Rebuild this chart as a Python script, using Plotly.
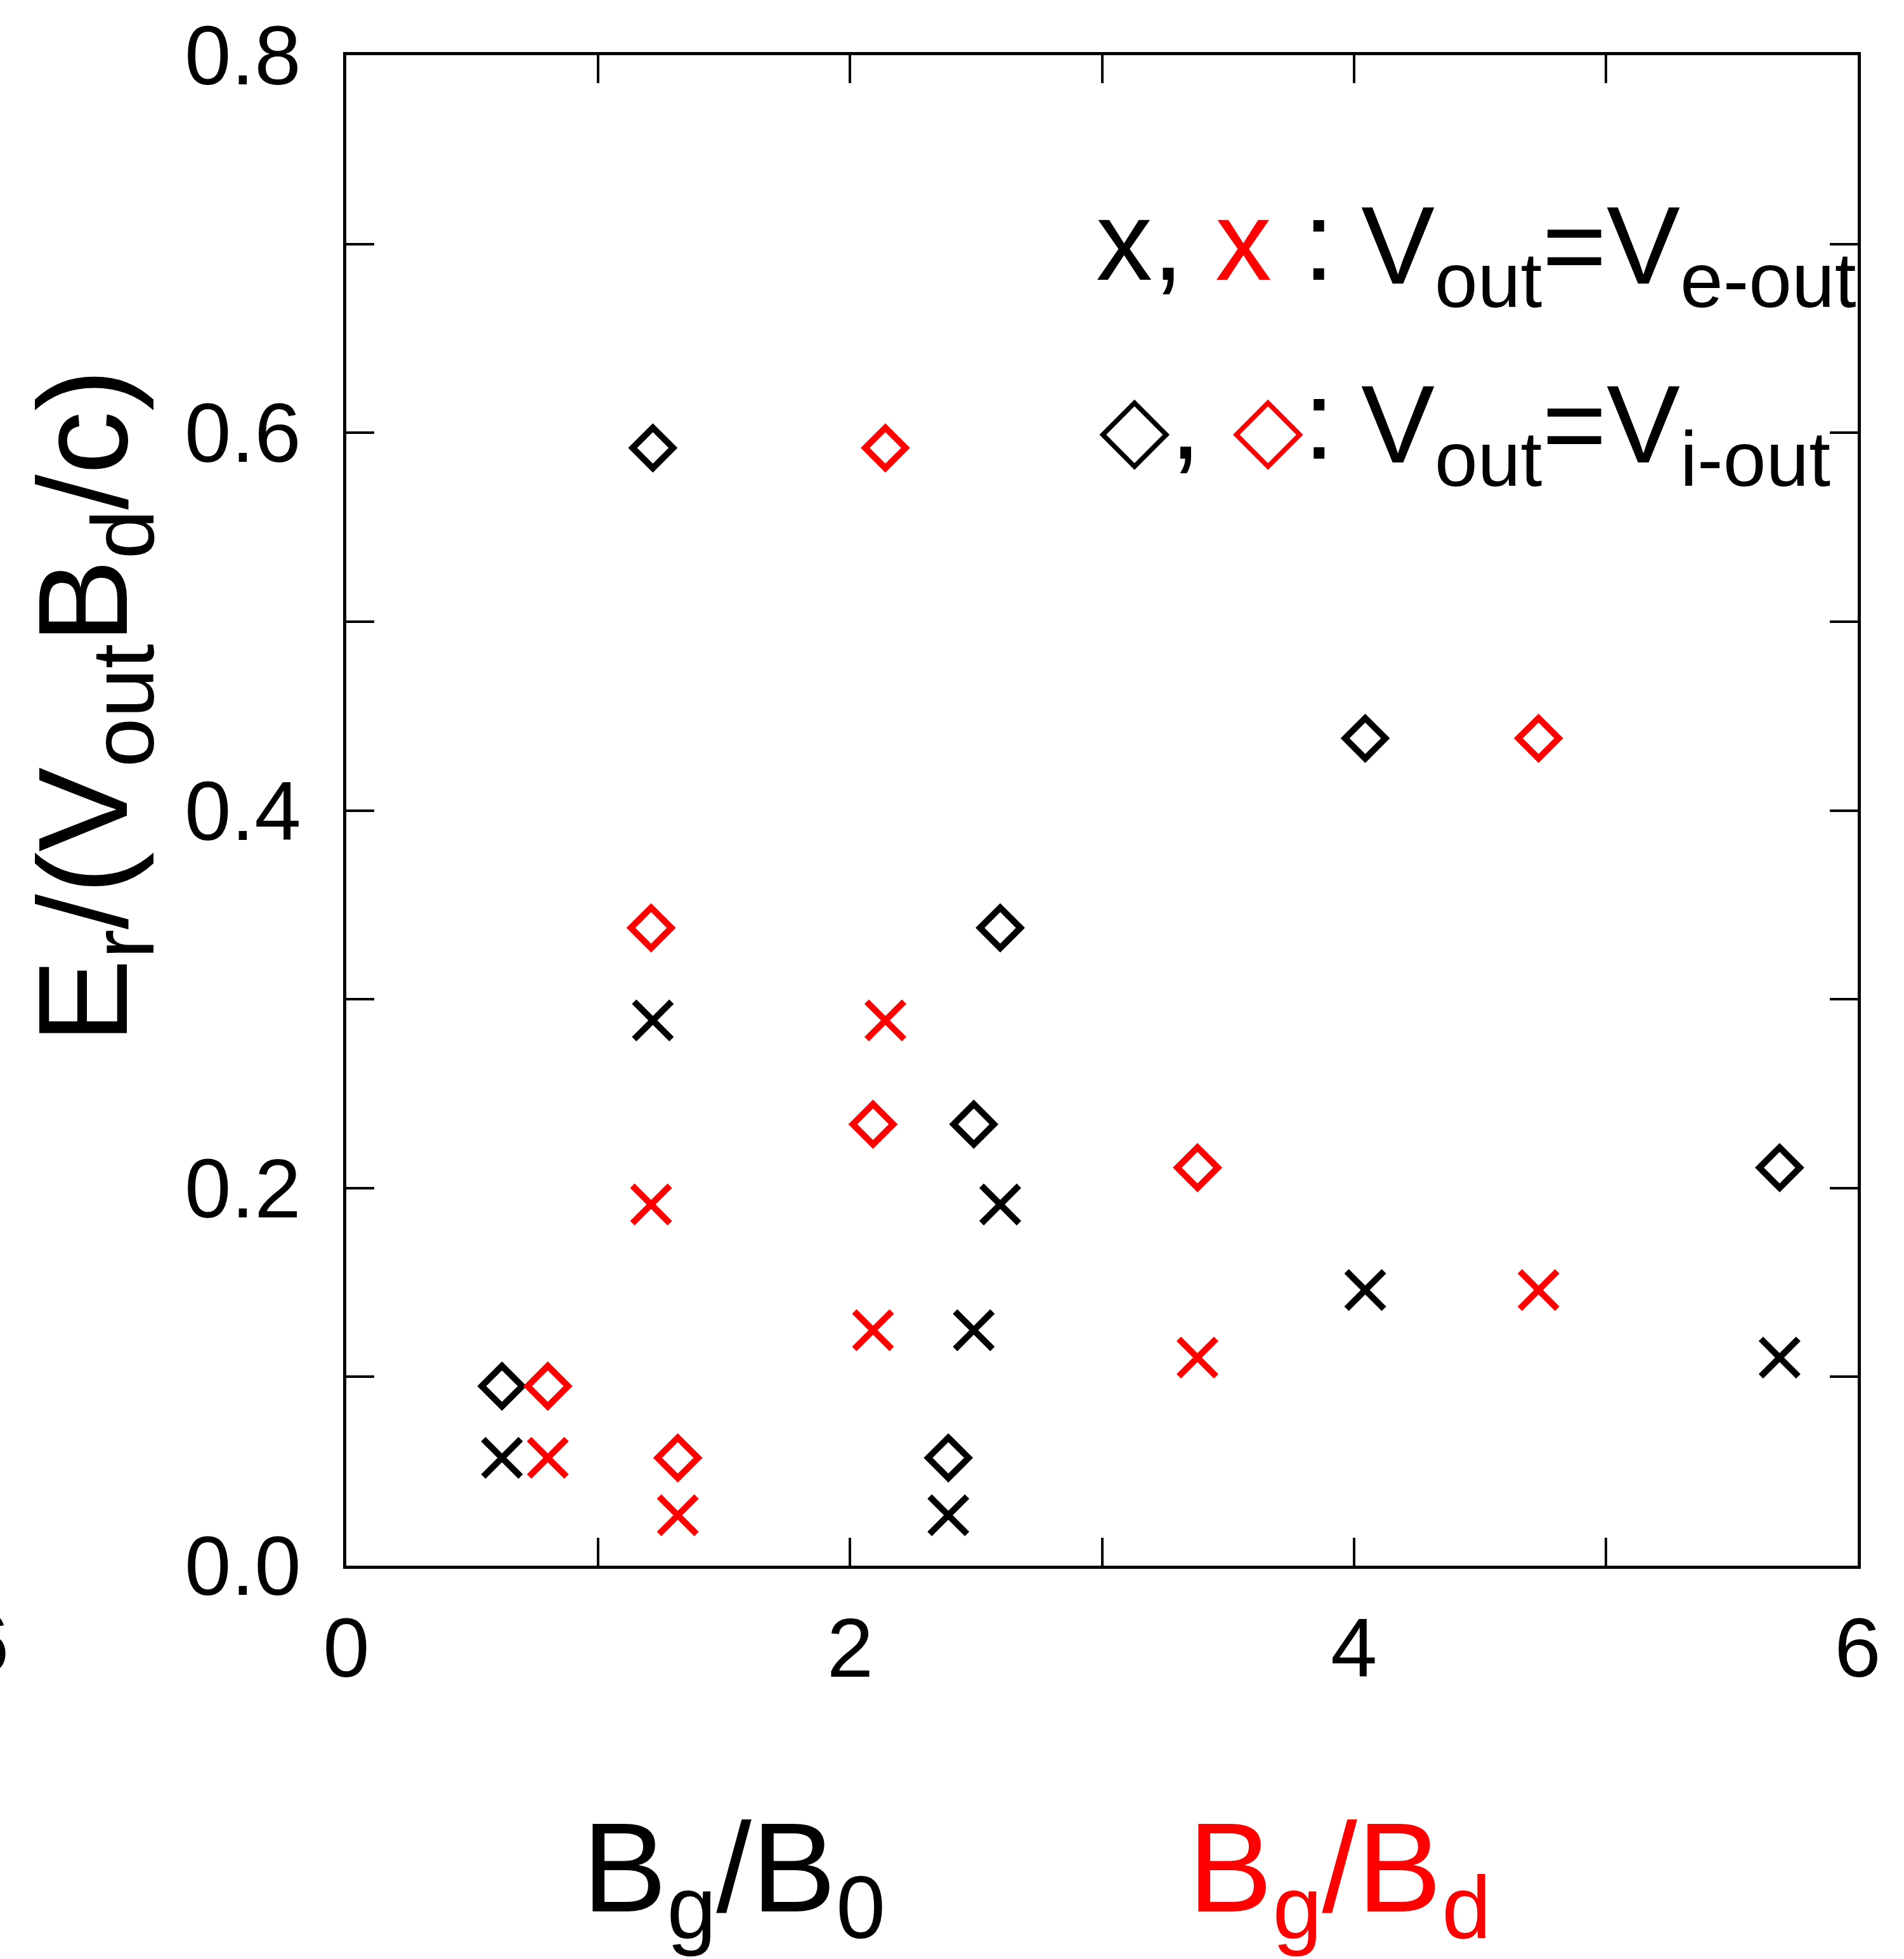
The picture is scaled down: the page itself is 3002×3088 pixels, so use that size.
import plotly.graph_objects as go

# ---- data (one entry per simulation configuration) ----
bg_over_b0 = [0.618, 1.217, 2.390, 2.491, 2.596, 4.045, 5.690]   # black markers (B_g/B_0)
bg_over_bd = [0.800, 2.140, 1.316, 2.091, 1.210, 4.733, 3.379]   # red markers (B_g/B_d)
er_i_out = [0.0951, 0.592, 0.0571, 0.2338, 0.3378, 0.4382, 0.2108]  # diamonds: V_out = V_i-out
er_e_out = [0.0571, 0.2888, 0.0267, 0.1247, 0.1913, 0.1460, 0.1102]  # crosses: V_out = V_e-out

x_range = [0, 6]
y_range = [0, 0.8]
x_major, x_minor = 2, 1
y_major, y_minor = 0.2, 0.1

RED = "#ff0000"
BLACK = "#000000"
FONT = "Liberation Sans, Arial, DejaVu Sans, sans-serif"

W, H = 3002, 3088
L, R, T, B = 546, 2929, 87, 2468


def px(xp):
    return (xp - L) / (R - L)


def py(yp):
    return (B - yp) / (B - T)


fig = go.Figure()

LW = 10
for xs, ys, col, sym, size in [
    (bg_over_b0, er_e_out, BLACK, "x-thin-open", 59),
    (bg_over_bd, er_e_out, RED, "x-thin-open", 59),
    (bg_over_b0, er_i_out, BLACK, "diamond-open", 49),
    (bg_over_bd, er_i_out, RED, "diamond-open", 49),
]:
    fig.add_trace(go.Scatter(x=xs, y=ys, mode="markers", showlegend=False,
                             marker=dict(symbol=sym, size=size, color=col,
                                         line=dict(width=LW, color=col))))

axis_common = dict(
    showgrid=False, zeroline=False, showline=True, linecolor=BLACK, linewidth=5,
    mirror="ticks", ticks="inside", ticklen=44, tickwidth=4, tickcolor=BLACK,
    tickfont=dict(family=FONT, size=132, color=BLACK),
)

fig.update_xaxes(range=x_range, tickmode="linear", tick0=0, dtick=x_major, tickformat="d",
                 ticklabelstandoff=12,
                 minor=dict(dtick=x_minor, ticks="inside", ticklen=44, tickwidth=4, tickcolor=BLACK),
                 **axis_common)
fig.update_yaxes(range=y_range, tickmode="linear", tick0=0, dtick=y_major, tickformat=".1f",
                 ticklabelstandoff=40,
                 minor=dict(dtick=y_minor, ticks="inside", ticklen=44, tickwidth=4, tickcolor=BLACK),
                 **axis_common)

ann = []
# y-axis title
ann.append(dict(text="E<sub>r</sub>/(V<sub>out</sub>B<sub>d</sub>/c)", textangle=-90,
                xref="paper", yref="paper", x=px(145), y=py(1113), xanchor="center", yanchor="middle",
                showarrow=False, font=dict(family=FONT, size=200, color=BLACK)))
# x-axis titles
ann.append(dict(text="B<sub>g</sub>/B<sub>0</sub>", xref="paper", yref="paper",
                x=px(1157), y=py(2958), xanchor="center", yanchor="middle", showarrow=False,
                font=dict(family=FONT, size=200, color=BLACK)))
ann.append(dict(text="B<sub>g</sub>/B<sub>d</sub>", xref="paper", yref="paper",
                x=px(2112), y=py(2958), xanchor="center", yanchor="middle", showarrow=False,
                font=dict(family=FONT, size=200, color=RED)))
# key text inside the plot
ann.append(dict(text="x, <span style='color:#ff0000'>x</span> :", xref="paper", yref="paper",
                x=px(2106), y=py(379), xanchor="right", yanchor="middle", showarrow=False,
                font=dict(family=FONT, size=178, color=BLACK)))
ann.append(dict(text="V<sub>out</sub>=V<sub>e-out</sub>", xref="paper", yref="paper",
                x=px(2144), y=py(400), xanchor="left", yanchor="middle", showarrow=False,
                font=dict(family=FONT, size=174, color=BLACK)))
ann.append(dict(text="<span style='font-size:145px'>\u25c7</span>, "
                     "<span style='color:#ff0000;font-size:145px'>\u25c7</span>:",
                xref="paper", yref="paper",
                x=px(2106), y=py(662), xanchor="right", yanchor="middle", showarrow=False,
                font=dict(family=FONT, size=178, color=BLACK)))
ann.append(dict(text="V<sub>out</sub>=V<sub>i-out</sub>", xref="paper", yref="paper",
                x=px(2144), y=py(681), xanchor="left", yanchor="middle", showarrow=False,
                font=dict(family=FONT, size=174, color=BLACK)))
# clipped tick label of a neighbouring panel at the left page edge
ann.append(dict(text="6", xref="paper", yref="paper", x=px(16), y=py(2590),
                xanchor="right", yanchor="middle", showarrow=False,
                font=dict(family=FONT, size=132, color=BLACK)))

fig.update_layout(
    width=W, height=H,
    margin=dict(l=L, r=W - R, t=T, b=H - B, pad=0),
    paper_bgcolor="white", plot_bgcolor="white",
    annotations=ann, showlegend=False,
)

fig.write_html("out.html")
